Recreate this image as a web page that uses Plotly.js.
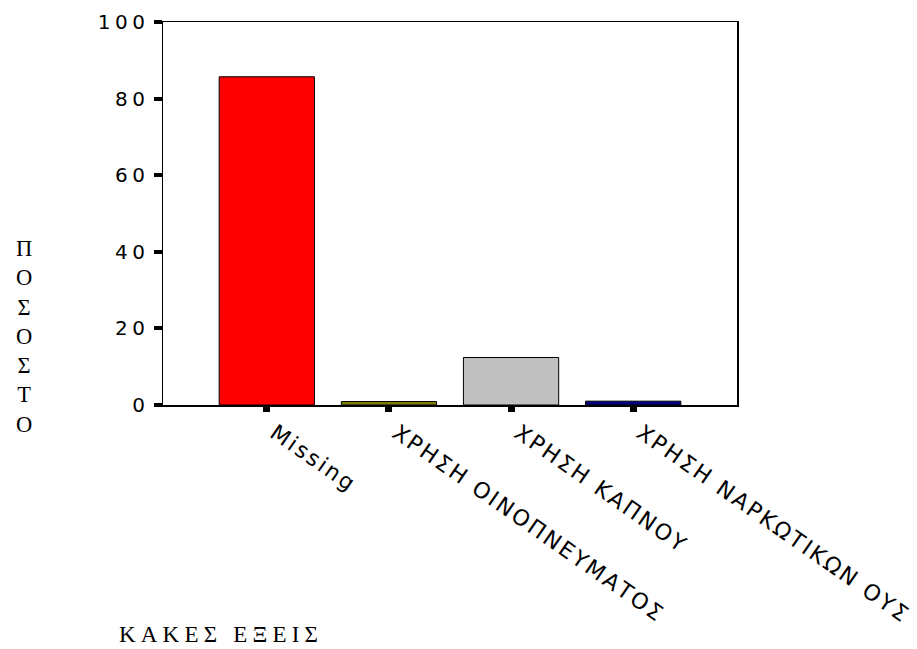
<!DOCTYPE html>
<html>
<head>
<meta charset="utf-8">
<script src="https://cdn.plot.ly/plotly-3.0.1.min.js"></script>
<style>
  html, body { margin: 0; padding: 0; background: #fff; }
  #chart { width: 917px; height: 649px; }
  .xtick text { letter-spacing: 2.5px; }
  .ytick text { letter-spacing: 4.5px; }
</style>
</head>
<body>
<div id="chart"></div>
<script>
const categories = ["Missing", "ΧΡΗΣΗ ΟΙΝΟΠΝΕΥΜΑΤΟΣ", "ΧΡΗΣΗ ΚΑΠΝΟΥ", "ΧΡΗΣΗ ΝΑΡΚΩΤΙΚΩΝ ΟΥΣ"];
const percentValues = [85.7, 0.9, 12.4, 1.0];
const barColors = ["#ff0000", "#808000", "#c0c0c0", "#000080"];
const yTickValues = [0, 20, 40, 60, 80, 100];
const yTitleLetters = ["Π", "Ο", "Σ", "Ο", "Σ", "Τ", "Ο"];
const xTitleText = "ΚΑΚΕΣ ΕΞΕΙΣ";

const trace = {
  type: "bar",
  x: categories,
  y: percentValues,
  width: 0.78,
  marker: { color: barColors, line: { color: "#000", width: 1 } },
  hoverinfo: "x+y"
};

const layout = {
  width: 917,
  height: 649,
  margin: { l: 163, r: 180, t: 22, b: 244 },
  paper_bgcolor: "#fff",
  plot_bgcolor: "#fff",
  showlegend: false,
  font: { family: "DejaVu Sans, sans-serif", color: "#000" },
  xaxis: {
    type: "category",
    range: [-0.85, 3.85],
    showline: true, linecolor: "#000", linewidth: 1.5, mirror: true,
    ticks: "outside", ticklen: 5, tickwidth: 7, tickcolor: "#000",
    tickangle: 35,
    ticklabelshift: 8,
    tickfont: { family: "DejaVu Sans, sans-serif", size: 22, color: "#000" },
    showgrid: false, zeroline: false
  },
  yaxis: {
    range: [0, 100],
    tickvals: yTickValues,
    showline: true, linecolor: "#000", linewidth: 1.5, mirror: true,
    ticks: "outside", ticklen: 8, tickwidth: 4, tickcolor: "#000",
    ticklabelstandoff: 0,
    tickfont: { family: "DejaVu Sans, sans-serif", size: 20, color: "#000" },
    showgrid: false, zeroline: false
  },
  annotations: [
    {
      xref: "paper", yref: "paper",
      x: -0.242, y: 0.178,
      xanchor: "center", yanchor: "middle",
      text: yTitleLetters.join("<br>"),
      showarrow: false,
      font: { family: "Liberation Serif, Times New Roman, serif", size: 22.5, color: "#000" }
    },
    {
      xref: "paper", yref: "paper",
      x: (117 - 163) / 574, y: -0.6,
      xanchor: "left", yanchor: "middle",
      text: '<span style="letter-spacing:5.2px">' + xTitleText + '</span>',
      showarrow: false,
      font: { family: "Liberation Serif, Times New Roman, serif", size: 23, color: "#000" }
    }
  ]
};

Plotly.newPlot("chart", [trace], layout, { displayModeBar: false, staticPlot: true });
</script>
</body>
</html>
